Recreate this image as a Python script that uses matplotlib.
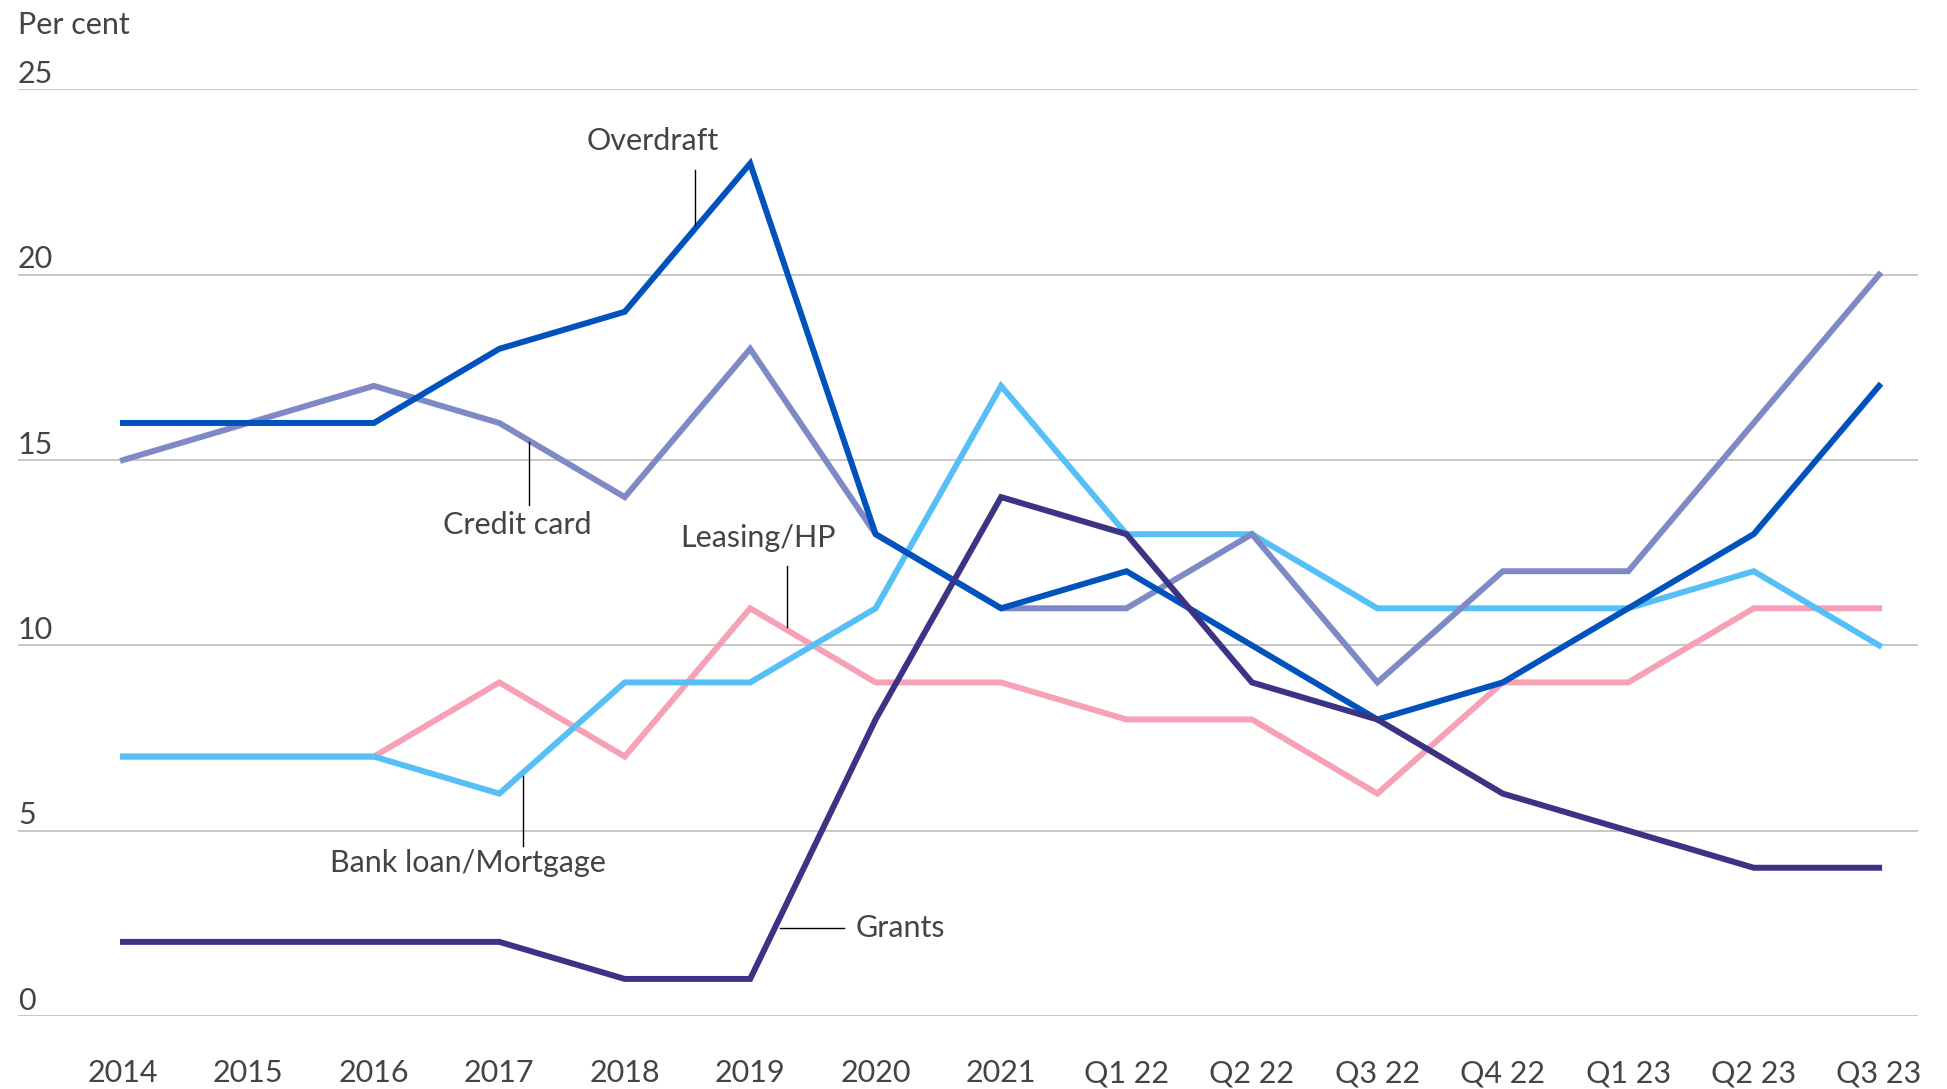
import matplotlib.pyplot as plt
import matplotlib.transforms as mtransforms

# Categorie sull'asse x
periods = ["2014", "2015", "2016", "2017", "2018", "2019", "2020", "2021",
           "Q1 22", "Q2 22", "Q3 22", "Q4 22", "Q1 23", "Q2 23", "Q3 23"]

# Serie (per cent)
overdraft = [16, 16, 16, 18, 19, 23, 13, 11, 12, 10, 8, 9, 11, 13, 17]
credit_card = [15, 16, 17, 16, 14, 18, 13, 11, 11, 13, 9, 12, 12, 16, 20]
bank_loan = [7, 7, 7, 6, 9, 9, 11, 17, 13, 13, 11, 11, 11, 12, 10]
leasing = [7, 7, 7, 9, 7, 11, 9, 9, 8, 8, 6, 9, 9, 11, 11]
grants = [2, 2, 2, 2, 1, 1, 8, 14, 13, 9, 8, 6, 5, 4, 4]

y_ticks = [0, 5, 10, 15, 20, 25]

plt.rcParams['font.family'] = ['Lato', 'DejaVu Sans']
txt_col = "#444444"
fs = 22

fig = plt.figure(figsize=(19.47, 10.89), dpi=100)
ax = fig.add_axes([18 / 1947, 1 - 1016 / 1089, 1900 / 1947, (1016 - 89.4) / 1089])

x = list(range(len(periods)))
lw = 4.3
ax.plot(x, leasing, color="#f7a1b6", lw=lw, solid_joinstyle="miter", zorder=3)
ax.plot(x, bank_loan, color="#55bff6", lw=lw, solid_joinstyle="miter", zorder=3)
ax.plot(x, credit_card, color="#7f89c5", lw=lw, solid_joinstyle="miter", zorder=4)
ax.plot(x, overdraft, color="#0052bc", lw=lw, solid_joinstyle="miter", zorder=5)
ax.plot(x, grants, color="#3b3384", lw=lw, solid_joinstyle="miter", zorder=6)

ax.set_xlim(-0.837, 14.31)
ax.set_ylim(0, 25)

# Griglia orizzontale
for v in y_ticks:
    ax.axhline(v, color="#bdbdbd", lw=1.2, zorder=1)

ax.set_yticks([])
ax.set_xticks(x)
ax.set_xticklabels(periods, fontsize=fs, color=txt_col)
ax.tick_params(axis="x", length=0, pad=31)
for s in ax.spines.values():
    s.set_visible(False)

# Etichette asse y sopra le linee
trans = mtransforms.blended_transform_factory(ax.transAxes, ax.transData)
for v in y_ticks:
    ax.text(0, v + 0.17, str(v), transform=trans, fontsize=fs, color=txt_col,
            ha="left", va="baseline")

fig.text(18 / 1947, 1 - 34 / 1089, "Per cent", fontsize=fs, color=txt_col,
         ha="left", va="baseline")

# Etichette delle serie con linee guida
lab = dict(fontsize=fs, color=txt_col, zorder=7)
ax.text(4.22, 23.6, "Overdraft", ha="center", va="center", **lab)
ax.plot([4.56, 4.56], [22.83, 21.34], color="black", lw=1, zorder=7)

ax.text(3.14, 13.25, "Credit card", ha="center", va="center", **lab)
ax.plot([3.24, 3.24], [15.5, 13.8], color="black", lw=1, zorder=7)

ax.text(5.06, 12.9, "Leasing/HP", ha="center", va="center", **lab)
ax.plot([5.29, 5.29], [12.14, 10.5], color="black", lw=1, zorder=7)

ax.text(2.75, 4.13, "Bank loan/Mortgage", ha="center", va="center", **lab)
ax.plot([3.19, 3.19], [6.48, 4.59], color="black", lw=1, zorder=7)

ax.text(5.84, 2.37, "Grants", ha="left", va="center", **lab)
ax.plot([5.24, 5.75], [2.37, 2.37], color="black", lw=1, zorder=7)

fig.savefig("out.png", dpi=100)
